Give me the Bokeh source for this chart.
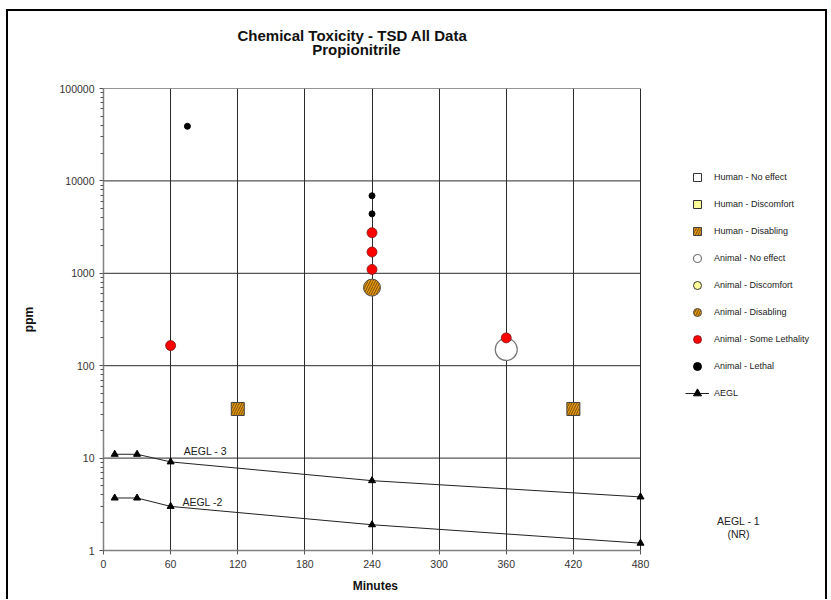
from bokeh.plotting import figure
from bokeh.models import (Legend, LegendItem, Label, FixedTicker, Title,
                          PrintfTickFormatter, LinearAxis)
from bokeh.embed import file_html
from bokeh.resources import INLINE

# ---------------- data ----------------
x_ticks = [0, 60, 120, 180, 240, 300, 360, 420, 480]
y_ticks = [1, 10, 100, 1000, 10000, 100000]

human_no_effect_min = []
human_no_effect_ppm = []
human_discomfort_min = []
human_discomfort_ppm = []
human_disabling_min = [120, 420]
human_disabling_ppm = [34, 34]

animal_no_effect_min = [360]
animal_no_effect_ppm = [150]
animal_discomfort_min = []
animal_discomfort_ppm = []
animal_disabling_min = [240]
animal_disabling_ppm = [700]
animal_some_lethality_min = [60, 240, 240, 240, 360]
animal_some_lethality_ppm = [165, 1100, 1700, 2750, 200]
animal_lethal_min = [75, 240, 240]
animal_lethal_ppm = [39000, 4400, 6900]

aegl_min = [10, 30, 60, 240, 480]
aegl3_ppm = [11, 11, 9.1, 5.7, 3.8]
aegl2_ppm = [3.7, 3.7, 3.0, 1.9, 1.2]

FONT = "Liberation Sans"
ORANGE = "#E39A12"
HATCH = "#7A4A05"
YELLOW = "#FFFF99"
GRID = "#2b2b2b"

# the frame is widened to the right so that the legend and side notes live in it;
# the plotting area itself stays 0..480 minutes (537 px)
PLOT_PX = 537
FRAME_PX = 722
x_end = x_ticks[-1] * FRAME_PX / PLOT_PX

p = figure(frame_width=FRAME_PX, frame_height=462,
           min_border_left=95, min_border_right=0,
           min_border_top=77, min_border_bottom=49,
           x_range=(0, x_end), y_range=(y_ticks[0], y_ticks[-1]),
           y_axis_type="log",
           output_backend="svg", toolbar_location=None,
           background_fill_color="white", border_fill_color="white")
p.margin = (9, 0, 0, 6)
p.styles = {"border-top": "2px solid black", "border-left": "2px solid black",
            "border-right": "2px solid black"}

# axes
p.xaxis.ticker = FixedTicker(ticks=x_ticks)
p.xaxis.bounds = (x_ticks[0], x_ticks[-1])
minor = [m * d for d in y_ticks[:-1] for m in range(2, 10)]
p.yaxis.ticker = FixedTicker(ticks=y_ticks, minor_ticks=minor)
p.yaxis.formatter = PrintfTickFormatter(format="%d")
for ax in (p.xaxis, p.yaxis):
    ax.axis_line_color = "#808080"
    ax.axis_line_width = 1.5
    ax.major_tick_in = 0
    ax.major_tick_out = 4
    ax.major_tick_line_color = "#555555"
    ax.minor_tick_in = 0
    ax.minor_tick_out = 3
    ax.minor_tick_line_color = "#555555"
    ax.major_label_text_font = FONT
    ax.major_label_text_font_size = "10.5px"
    ax.major_label_text_color = "#333333"
    ax.axis_label_text_font = FONT
    ax.axis_label_text_font_style = "bold"
    ax.axis_label_text_font_size = "12px"
    ax.axis_label_text_color = "#111111"
p.xaxis.minor_tick_line_color = None
p.yaxis.axis_label = "ppm"
p.yaxis.axis_label_standoff = 20

p.xgrid.grid_line_color = GRID
p.xgrid.grid_line_width = 1
p.ygrid.grid_line_color = None
p.outline_line_color = None

# horizontal grid lines, only across the 0..480 plotting area
p.segment(x0=[x_ticks[0]] * len(y_ticks), x1=[x_ticks[-1]] * len(y_ticks),
          y0=y_ticks, y1=y_ticks, line_color=GRID, line_width=1)

# ---------------- glyphs ----------------
def pts(xs, ys):
    # empty categories keep a NaN placeholder so their legend swatch is drawn
    return (xs, ys) if len(xs) else ([float("nan")], [float("nan")])

r_h_no = p.scatter(*pts(human_no_effect_min, human_no_effect_ppm), marker="square",
                   size=13, fill_color="white", line_color="#333333")
r_h_dis = p.scatter(*pts(human_discomfort_min, human_discomfort_ppm), marker="square",
                    size=13, fill_color=YELLOW, line_color="#333333")
r_h_dab = p.scatter(*pts(human_disabling_min, human_disabling_ppm), marker="square",
                    size=13, fill_color=ORANGE, line_color="#444444",
                    hatch_pattern="/", hatch_color=HATCH, hatch_scale=5,
                    hatch_weight=1)
r_a_no = p.scatter(*pts(animal_no_effect_min, animal_no_effect_ppm), marker="circle",
                   size=22, fill_color="white", line_color="#777777",
                   line_width=1.2)
r_a_dis = p.scatter(*pts(animal_discomfort_min, animal_discomfort_ppm), marker="circle",
                    size=10, fill_color=YELLOW, line_color="#333333")
r_a_dab = p.scatter(*pts(animal_disabling_min, animal_disabling_ppm), marker="circle",
                    size=17, fill_color=ORANGE, line_color="#555555",
                    hatch_pattern="/", hatch_color=HATCH, hatch_scale=5,
                    hatch_weight=1)
r_a_sl = p.scatter(*pts(animal_some_lethality_min, animal_some_lethality_ppm),
                   marker="circle", size=10, fill_color="#FF0000",
                   line_color="#7a1a1a", line_width=0.8)
r_a_l = p.scatter(*pts(animal_lethal_min, animal_lethal_ppm), marker="circle",
                  size=6, fill_color="black", line_color="black")

l3 = p.line(aegl_min, aegl3_ppm, line_color="#222222", line_width=1)
t3 = p.scatter(aegl_min, aegl3_ppm, marker="triangle", size=7,
               fill_color="black", line_color="black")
l2 = p.line(aegl_min, aegl2_ppm, line_color="#222222", line_width=1)
t2 = p.scatter(aegl_min, aegl2_ppm, marker="triangle", size=7,
               fill_color="black", line_color="black")

# ---------------- legend ----------------
items = [
    LegendItem(label="Human - No effect", renderers=[r_h_no]),
    LegendItem(label="Human - Discomfort", renderers=[r_h_dis]),
    LegendItem(label="Human - Disabling", renderers=[r_h_dab]),
    LegendItem(label="Animal - No effect", renderers=[r_a_no]),
    LegendItem(label="Animal - Discomfort", renderers=[r_a_dis]),
    LegendItem(label="Animal - Disabling", renderers=[r_a_dab]),
    LegendItem(label="Animal - Some Lethality", renderers=[r_a_sl]),
    LegendItem(label="Animal - Lethal", renderers=[r_a_l]),
    LegendItem(label="AEGL", renderers=[l3, t3]),
]
legend = Legend(items=items, location=(582, 147), orientation="vertical",
                glyph_width=24, glyph_height=20, label_height=20,
                spacing=7, padding=0, margin=0, label_standoff=5,
                border_line_color=None, background_fill_alpha=0,
                label_text_font=FONT, label_text_font_size="9px",
                label_text_color="#222222")
p.add_layout(legend)

# ---------------- texts ----------------
def add_label(text, x, y, size, units="screen", color="#222222"):
    p.add_layout(Label(x=x, y=y, x_units=units, y_units=units, text=text,
                       text_align="center", text_baseline="middle",
                       text_font=FONT, text_font_size=size, text_color=color))

add_label("AEGL - 3", 91, 11.8, "10.5px", units="data")
add_label("AEGL -2", 88.5, 3.39, "10.5px", units="data")
add_label("AEGL - 1", 635, 30, "10.5px")
add_label("(NR)", 635, 17, "10.5px")

def label_axis(x, text, standoff, size):
    # an axis that only carries one text, used to place a title line
    return LinearAxis(ticker=FixedTicker(ticks=[x]),
                      major_label_overrides={x: text},
                      axis_line_color=None, major_tick_line_color=None,
                      minor_tick_line_color=None, major_tick_out=0,
                      major_tick_in=0, major_label_standoff=standoff,
                      major_label_text_font=FONT,
                      major_label_text_font_size=size,
                      major_label_text_font_style="bold",
                      major_label_text_color="#111111")

# second title line (nearest the frame)
p.add_layout(label_axis(226, "Propionitrile", 31, "15px"), "above")
# first title line
p.add_layout(Title(text="Chemical Toxicity - TSD All Data", align="left",
                   offset=134, text_font=FONT, text_font_size="15px",
                   text_font_style="bold", text_color="#111111",
                   standoff=-12), "above")
# x axis title
p.add_layout(label_axis(243, "Minutes", 8, "12px"), "below")

open("out.html", "w").write(file_html(p, INLINE))
